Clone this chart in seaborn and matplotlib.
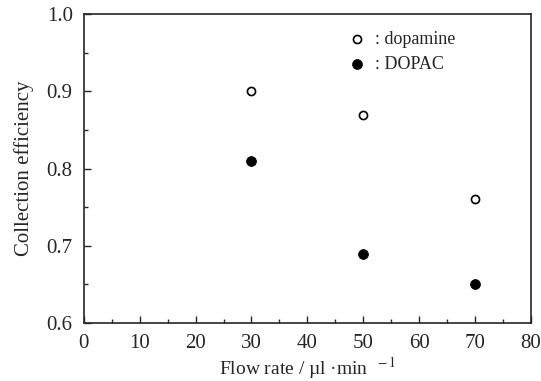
import pandas as pd
import numpy as np
import seaborn as sns
import matplotlib.pyplot as plt
from matplotlib.ticker import MultipleLocator

flow_rate = [30, 50, 70]
dopamine = [0.90, 0.87, 0.76]
dopac = [0.81, 0.69, 0.65]

df = pd.DataFrame({
    "flow": flow_rate * 2,
    "eff": dopamine + dopac,
    "compound": [": dopamine"] * 3 + [": DOPAC"] * 3,
})

sns.set_style("ticks")
plt.rcParams['font.family'] = ['Liberation Serif', 'DejaVu Serif']
plt.rcParams['mathtext.fontset'] = 'stix'

fig = plt.figure(figsize=(5.41, 3.81), dpi=100)
ax = fig.add_axes([0.155, 0.152, 0.826, 0.811])

sns.scatterplot(data=df[df.compound == ": dopamine"], x="flow", y="eff", ax=ax,
                marker="o", s=34, facecolor="white", edgecolor="black", linewidth=1.2,
                label=": dopamine")
sns.scatterplot(data=df[df.compound == ": DOPAC"], x="flow", y="eff", ax=ax,
                marker="o", s=50, color="black", edgecolor="black",
                label=": DOPAC")

ax.set_xlim(0, 80)
ax.set_ylim(0.6, 1.0)
ax.xaxis.set_major_locator(MultipleLocator(10))
ax.xaxis.set_minor_locator(MultipleLocator(5))
ax.yaxis.set_major_locator(MultipleLocator(0.1))
ax.yaxis.set_minor_locator(MultipleLocator(0.05))
ax.yaxis.set_major_formatter(plt.FuncFormatter(lambda v, p: f"{v:.1f}"))
ax.tick_params(which="both", direction="in", top=False, right=False, labelsize=15)
ax.tick_params(which="major", length=5, width=1)
ax.tick_params(which="minor", length=3, width=1)
ax.tick_params(axis="x", pad=8)
ax.tick_params(axis="y", pad=8)
for sp in ax.spines.values():
    sp.set_linewidth(1.2)
    sp.set_visible(True)

ax.set_xlabel("Flow rate / \u00b5l \u00b7min $^{\\ -1}$", fontsize=14, labelpad=1)
ax.set_ylabel("Collection efficiency", fontsize=15, labelpad=9)

leg = ax.legend(loc="upper left", bbox_to_anchor=(0.555, 0.97), frameon=False,
                fontsize=13, handletextpad=0.0, labelspacing=0.45, borderaxespad=0)

fig.savefig("out.png", dpi=100)
